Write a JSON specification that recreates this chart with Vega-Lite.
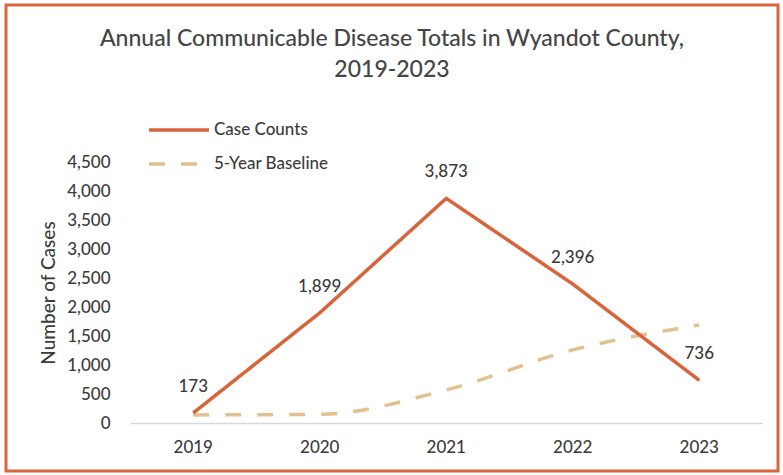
{
  "$schema": "https://vega.github.io/schema/vega-lite/v6.json",
  "width": 772,
  "height": 466,
  "autosize": "none",
  "padding": {"left": 6, "top": 5, "right": 5, "bottom": 4},
  "background": "white",
  "config": {
    "view": {"stroke": "#d9663f", "strokeWidth": 3},
    "font": "Lato"
  },
  "title": {
    "text": ["Annual Communicable Disease Totals in Wyandot County,", "2019-2023"],
    "fontSize": 23,
    "fontWeight": 500,
    "color": "#454545",
    "font": "Lato",
    "lineHeight": 31,
    "anchor": "middle",
    "frame": "group",
    "offset": -77
  },
  "data": {
    "values": [
      {"year": "2019", "series": "Case Counts", "value": 173},
      {"year": "2020", "series": "Case Counts", "value": 1899},
      {"year": "2021", "series": "Case Counts", "value": 3873},
      {"year": "2022", "series": "Case Counts", "value": 2396},
      {"year": "2023", "series": "Case Counts", "value": 736},
      {"year": "2019", "series": "5-Year Baseline", "value": 140},
      {"year": "2020", "series": "5-Year Baseline", "value": 150},
      {"year": "2021", "series": "5-Year Baseline", "value": 570},
      {"year": "2022", "series": "5-Year Baseline", "value": 1260},
      {"year": "2023", "series": "5-Year Baseline", "value": 1690}
    ]
  },
  "encoding": {
    "x": {
      "field": "year",
      "type": "ordinal",
      "scale": {"type": "band", "range": [124, 756.5], "paddingInner": 0, "paddingOuter": 0},
      "axis": {
        "title": null,
        "orient": "bottom",
        "offset": -48,
        "labelAngle": 0,
        "domain": true,
        "domainColor": "#d9d9d9",
        "domainWidth": 1.5,
        "ticks": false,
        "grid": false,
        "labelFontSize": 17,
        "labelFontWeight": 500,
        "labelColor": "#3c3c3c",
        "labelPadding": 16
      }
    },
    "y": {
      "field": "value",
      "type": "quantitative",
      "scale": {"domain": [0, 4500], "range": [418, 157], "nice": false, "zero": true},
      "axis": {
        "values": [0, 500, 1000, 1500, 2000, 2500, 3000, 3500, 4000, 4500],
        "format": ",.0f",
        "offset": -106,
        "domain": false,
        "ticks": false,
        "grid": false,
        "labelFontSize": 17,
        "labelFontWeight": 500,
        "labelColor": "#3c3c3c",
        "labelPadding": 2,
        "title": "Number of Cases",
        "titleFontSize": 19,
        "titleFontWeight": 500,
        "titleColor": "#3c3c3c",
        "titlePadding": 8
      }
    }
  },
  "layer": [
    {
      "transform": [{"filter": "datum.series === '5-Year Baseline'"}],
      "mark": {"type": "line", "interpolate": "monotone", "strokeWidth": 3.5},
      "encoding": {
        "color": {
          "field": "series",
          "type": "nominal",
          "scale": {"domain": ["Case Counts", "5-Year Baseline"], "range": ["#d9633a", "#e3c08f"]},
          "legend": {
            "title": null,
            "orient": "none",
            "legendX": 141,
            "legendY": 93,
            "padding": 0,
            "values": ["Case Counts"],
            "symbolType": "stroke",
            "symbolSize": 3600,
            "symbolStrokeWidth": 3.5,
            "labelFontSize": 17,
            "labelFontWeight": 500,
            "labelColor": "#3c3c3c",
            "labelOffset": 3
          }
        },
        "strokeDash": {
          "field": "series",
          "type": "nominal",
          "scale": {"domain": ["5-Year Baseline", "Case Counts"], "range": [[16, 16], [1, 0]]},
          "legend": {
            "title": null,
            "orient": "none",
            "legendX": 141,
            "legendY": 127,
            "padding": 0,
            "values": ["5-Year Baseline"],
            "symbolType": "stroke",
            "symbolSize": 3600,
            "symbolStrokeWidth": 3.5,
            "symbolStrokeColor": "#e3c08f",
            "labelFontSize": 17,
            "labelFontWeight": 500,
            "labelColor": "#3c3c3c",
            "labelOffset": 3
          }
        }
      }
    },
    {
      "transform": [{"filter": "datum.series === 'Case Counts'"}],
      "mark": {"type": "line", "interpolate": "linear", "strokeWidth": 3.5},
      "encoding": {
        "color": {"field": "series", "type": "nominal"},
        "strokeDash": {"field": "series", "type": "nominal"}
      }
    },
    {
      "transform": [{"filter": "datum.series === 'Case Counts'"}],
      "mark": {"type": "text", "dy": -26, "fontSize": 17, "fontWeight": 500, "color": "#3a3a3a", "baseline": "middle", "align": "center"},
      "encoding": {
        "text": {"field": "value", "type": "quantitative", "format": ",.0f"}
      }
    }
  ]
}
